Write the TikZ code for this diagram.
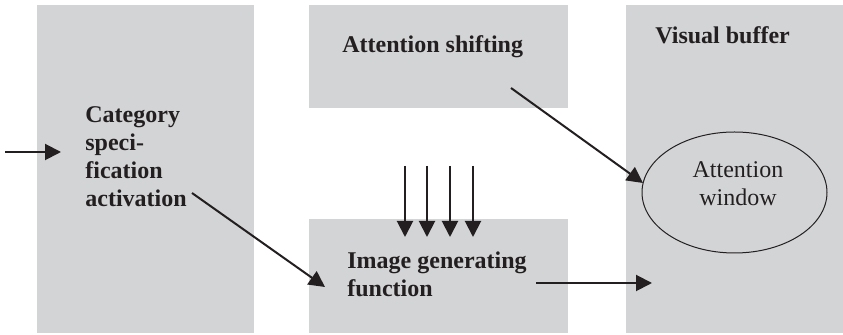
\documentclass[tikz,border=0pt]{standalone}
\usepackage{fontspec}
\setmainfont{Liberation Serif}
\usetikzlibrary{arrows.meta,shapes.geometric}
\definecolor{boxgray}{RGB}{211,212,214}
\definecolor{ink}{RGB}{35,31,32}
\begin{document}
\begin{tikzpicture}[x=0.5pt,y=-0.5pt,
  panel/.style={fill=boxgray, draw=none, inner sep=0pt, outer sep=0pt},
  lbl/.style={font=\bfseries\fontsize{12}{14}\selectfont, text=ink, inner sep=0pt, align=left},
  plain/.style={font=\fontsize{12}{14}\selectfont, text=ink, inner sep=0pt, align=center},
  arr/.style={draw=ink, line width=1pt, -{Triangle[length=8pt,width=8pt]}}]
\useasboundingbox (0,0) rectangle (843,335);
% panels
\node[panel, minimum width=108.5pt, minimum height=164pt] (catbox) at (145.5,169) {};
\node[panel, minimum width=129.5pt, minimum height=51.5pt] (shiftbox) at (438.5,56.5) {};
\node[panel, minimum width=129.5pt, minimum height=57pt] (imgbox) at (438.5,276) {};
\node[panel, minimum width=108.5pt, minimum height=164pt] (vbbox) at (734.5,169) {};
\node[draw=ink, line width=0.5pt, ellipse, minimum width=92.5pt, minimum height=60.5pt, inner sep=0pt] (win) at (734.5,192.5) {};
% labels
\node[lbl, anchor=north west] (cat) at (85,106) {Category\\speci-\\fication\\activation};
\node[lbl, anchor=base west] (shift) at (342,53) {Attention shifting};
\node[lbl, anchor=base west] (vb) at (655,44) {Visual buffer};
\node[lbl, anchor=north west] (img) at (347,251) {Image generating\\function};
\node[plain, anchor=north] (wintext) at (738,161) {Attention\\window};
% connector end points
\coordinate (inS) at (5,152);
\coordinate (inE) at (61,152);
\coordinate (catS) at (192,193);
\coordinate (imgE) at (325,287);
\coordinate (shS) at (511,88);
\coordinate (winE) at (643,183);
\coordinate (imgS) at (536,283);
\coordinate (vbE) at (652,283);
\foreach \i/\x in {1/405,2/427,3/450,4/473}{
  \coordinate (d\i S) at (\x,166);
  \coordinate (d\i E) at (\x,237);
}
% connectors
\draw[arr] (inS) -- (inE);
\draw[arr] (catS) -- (imgE);
\draw[arr] (shS) -- (winE);
\draw[arr] (imgS) -- (vbE);
\foreach \i in {1,2,3,4}{\draw[arr] (d\i S) -- (d\i E);}
\end{tikzpicture}
\end{document}
